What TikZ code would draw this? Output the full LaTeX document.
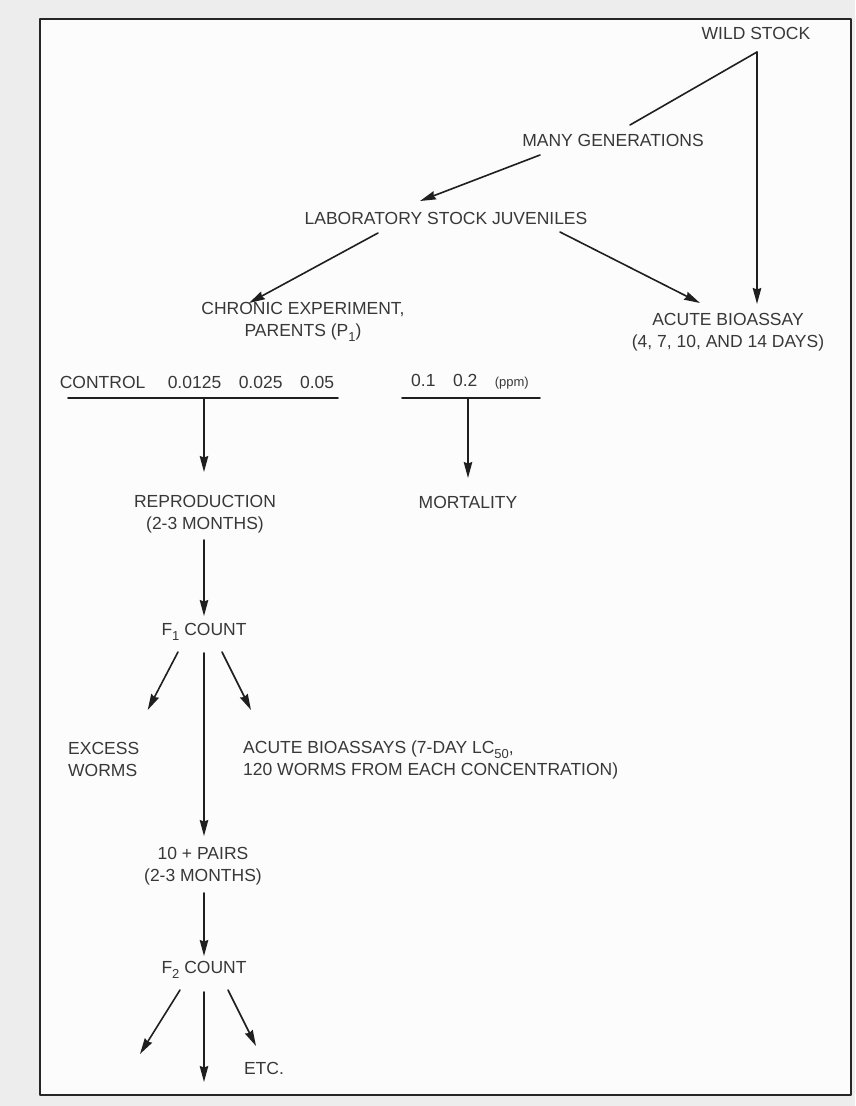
\documentclass[tikz,border=0pt]{standalone}
\usepackage{fontspec}
\setmainfont{Liberation Sans}
\usetikzlibrary{arrows.meta,calc}
\newcommand{\lowsub}[1]{\raisebox{-4.5pt}{\fontsize{13}{13}\selectfont #1}}

\begin{document}
\begin{tikzpicture}[x=1pt,y=-1pt,line join=round,line cap=round,>={Stealth[length=16pt,width=8.5pt,inset=1.5pt]},font=\fontsize{17.5}{22}\selectfont]
\tikzset{
 lbl/.style={text=black!78,inner sep=0pt,align=center},
 flow/.style={line width=1.6pt,draw=black!88},
 bar/.style={line width=1.9pt,draw=black!88}
}
\useasboundingbox (0,0) rectangle (855,1106);
\fill[black!7] (0,0) rectangle (855,1106);
\draw[line width=2pt,draw=black!85,fill=black!1] (40,19) rectangle (851,1095);
% labels
\node[lbl] (wild) at (756,33) {WILD STOCK};
\node[lbl] (many) at (613,140) {MANY GENERATIONS};
\node[lbl] (lab) at (446,218) {LABORATORY STOCK JUVENILES};
\node[lbl] (chronic) at (303,322) {CHRONIC EXPERIMENT,\\PARENTS (P\lowsub{1})};
\node[lbl] (acute) at (728,332) {ACUTE BIOASSAY\\(4, 7, 10, AND 14 DAYS)};
\node[lbl] (conc) at (197,382) {CONTROL\quad\ 0.0125\quad 0.025\quad 0.05};
\node[lbl] (ppm) at (470,382) {0.1\quad 0.2\quad {\fontsize{13}{16}\selectfont (ppm)}};
\node[lbl] (repro) at (205,514) {REPRODUCTION\\(2-3 MONTHS)};
\node[lbl] (mort) at (468,502) {MORTALITY};
\node[lbl] (f1) at (204,632) {F\lowsub{1} COUNT};
\node[lbl,anchor=west,align=left] (excess) at (68,759) {EXCESS\\WORMS};
\node[lbl,anchor=west,align=left] (bio) at (243,760) {ACUTE BIOASSAYS (7-DAY LC\lowsub{50},\\120 WORMS FROM EACH CONCENTRATION)};
\node[lbl] (pairs) at (203,866) {10 + PAIRS\\(2-3 MONTHS)};
\node[lbl] (f2) at (204,970) {F\lowsub{2} COUNT};
\node[lbl] (etc) at (264,1068) {ETC.};
% branch points
\coordinate (apex) at ($(wild)+(1,19)$);
\coordinate (cl) at ($(conc)+(-129,16)$);
\coordinate (cr) at ($(conc)+(141,16)$);
\coordinate (cm) at ($(conc)+(7,16)$);
\coordinate (pl) at ($(ppm)+(-68,16)$);
\coordinate (pr) at ($(ppm)+(70,16)$);
\coordinate (pm) at ($(ppm)+(-2,16)$);
\coordinate (endl) at ($(f2)+(-64,84)$);
\coordinate (endd) at ($(f2)+(0,112)$);
% connectors
\draw[flow] (apex) -- ($(many)+(17,-15)$);
\draw[flow,->] (apex) -- ($(acute)+(29,-28)$);
\draw[flow,->] ($(many)+(-73,15)$) -- ($(lab)+(-26,-17)$);
\draw[flow,->] ($(lab)+(-68,15)$) -- ($(chronic)+(-54,-19)$);
\draw[flow,->] ($(lab)+(114,14)$) -- ($(acute)+(-28,-29)$);
\draw[bar] (cl) -- (cr);
\draw[bar] (pl) -- (pr);
\draw[flow,->] (cm) -- ($(repro)+(-1,-42)$);
\draw[flow,->] (pm) -- ($(mort)+(0,-24)$);
\draw[flow,->] ($(repro)+(-1,26)$) -- ($(f1)+(0,-16)$);
\draw[flow,->] ($(f1)+(-26,20)$) -- ($(excess)+(44,-49)$);
\draw[flow,->] ($(f1)+(0,21)$) -- ($(pairs)+(1,-30)$);
\draw[flow,->] ($(f1)+(18,20)$) -- ($(bio.west)+(8,-50)$);
\draw[flow,->] ($(pairs)+(1,27)$) -- ($(f2)+(0,-14)$);
\draw[flow,->] ($(f2)+(-24,20)$) -- (endl);
\draw[flow,->] ($(f2)+(0,22)$) -- (endd);
\draw[flow,->] ($(f2)+(24,20)$) -- ($(etc)+(-8,-22)$);
\end{tikzpicture}
\end{document}
